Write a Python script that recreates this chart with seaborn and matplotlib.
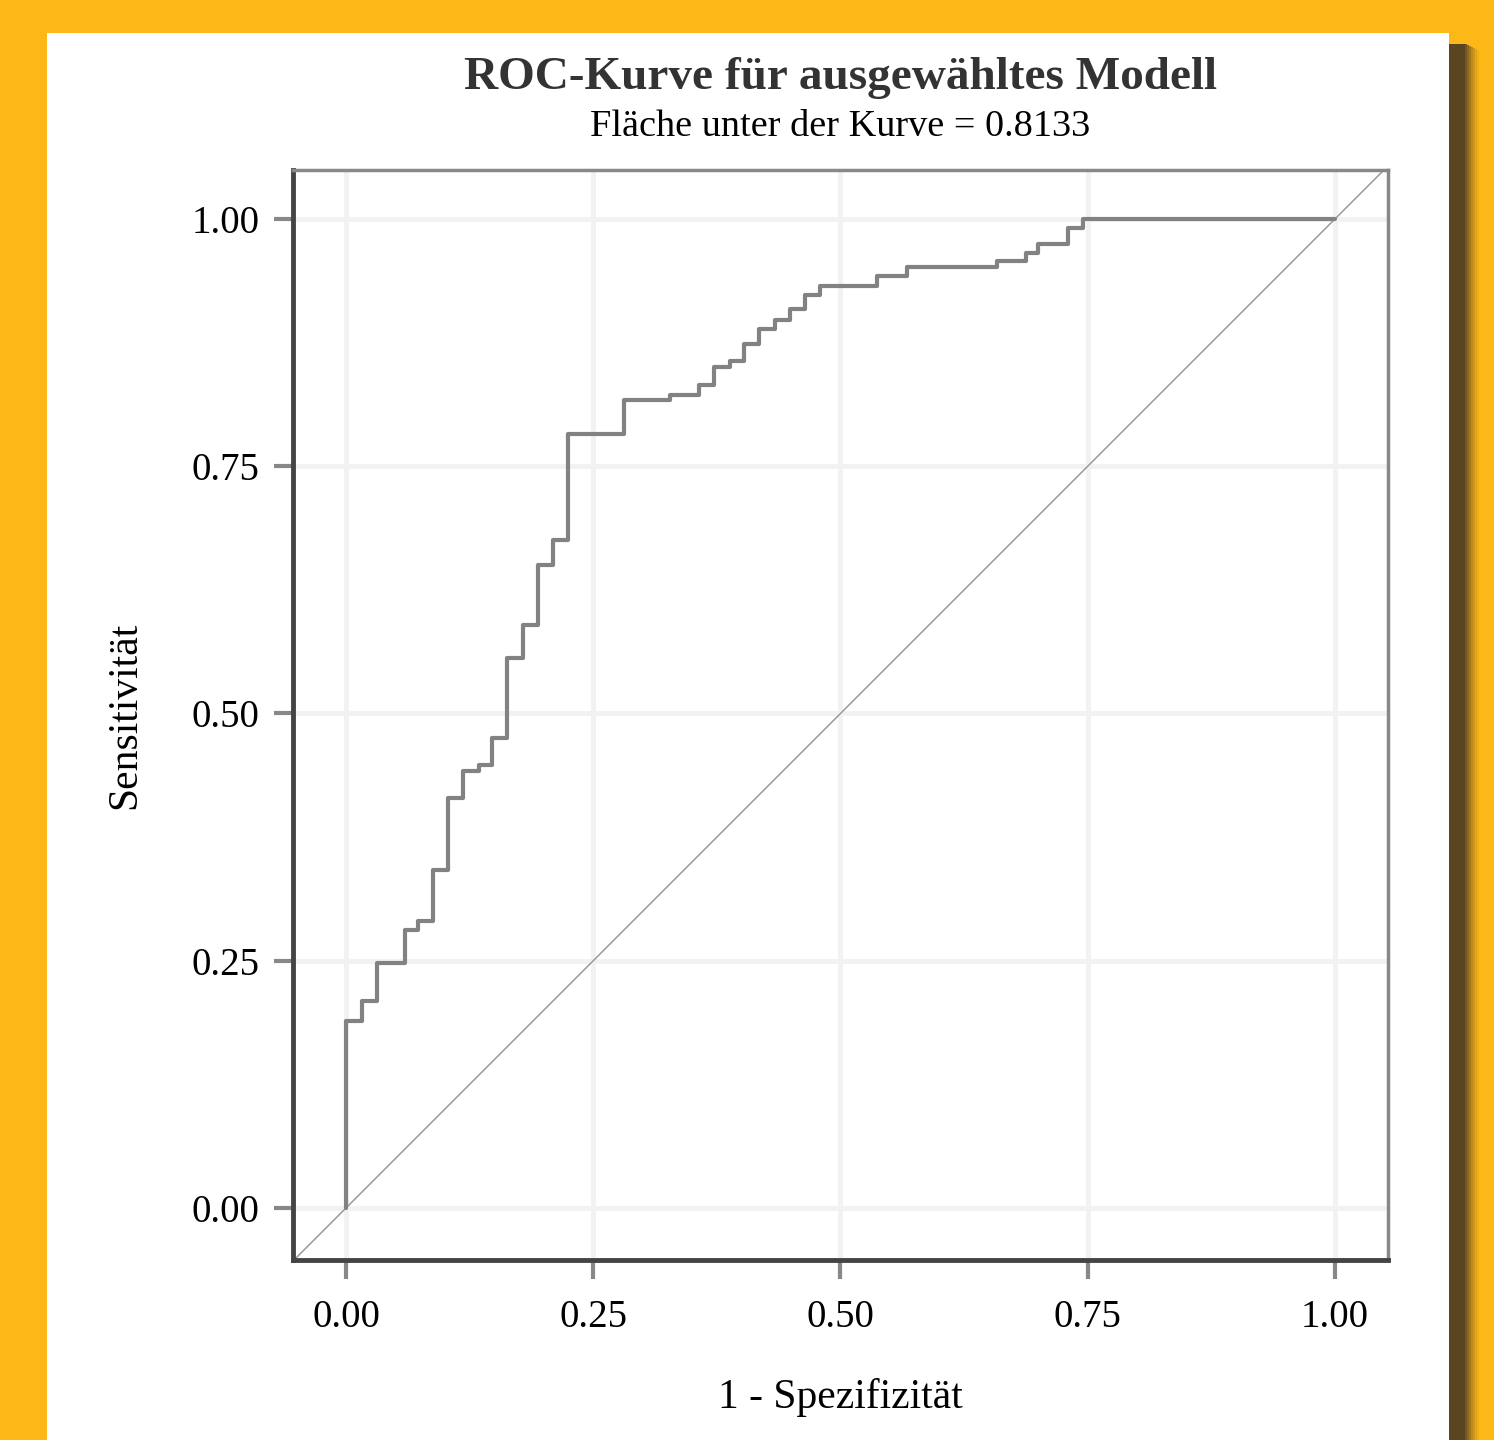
import numpy as np
import pandas as pd
import matplotlib.pyplot as plt
import matplotlib.patches as mpatches
import seaborn as sns

sns.set_theme(style="white")
plt.rcParams["font.family"] = ["Liberation Serif", "DejaVu Serif"]

# ROC curve corner points (step after each point)
fpr = [0.0, 0.0, 0.016, 0.031, 0.060, 0.0725, 0.0877, 0.1028, 0.118, 0.134,
       0.148, 0.163, 0.179, 0.194, 0.209, 0.224, 0.281, 0.328, 0.357, 0.372,
       0.388, 0.402, 0.418, 0.434, 0.449, 0.464, 0.479, 0.537, 0.567, 0.658,
       0.688, 0.700, 0.730, 0.7455, 1.0]
tpr = [0.0, 0.189, 0.209, 0.248, 0.281, 0.290, 0.342, 0.415, 0.442, 0.448,
       0.475, 0.556, 0.589, 0.650, 0.675, 0.783, 0.817, 0.822, 0.832, 0.850,
       0.856, 0.874, 0.889, 0.898, 0.909, 0.923, 0.932, 0.942, 0.951, 0.957,
       0.966, 0.975, 0.991, 1.0, 1.0]
ticks = [0.0, 0.25, 0.5, 0.75, 1.0]
tick_labels = ["0.00", "0.25", "0.50", "0.75", "1.00"]
auc = 0.8133

roc = pd.DataFrame({"fpr": fpr, "tpr": tpr})

W, H = 1494, 1440
fig = plt.figure(figsize=(W / 100, H / 100), dpi=100, facecolor="#fcb817")

# shadow + white panel (behind the axes)
fig.patches.append(mpatches.Rectangle((1449 / W, 0), 16 / W, 1 - 44 / H,
                                      transform=fig.transFigure, facecolor="#5b4520",
                                      edgecolor="none", zorder=-3))
for i, a in enumerate([0.85, 0.7, 0.55, 0.4, 0.28, 0.16, 0.07]):
    fig.patches.append(mpatches.Rectangle(((1465 + i * 2) / W, 0), 2 / W, 1 - (44 + i) / H,
                                          transform=fig.transFigure, facecolor="#5b4520",
                                          alpha=a, edgecolor="none", zorder=-3))
fig.patches.append(mpatches.Rectangle((47 / W, 0), (1449 - 47) / W, 1 - 33 / H,
                                      transform=fig.transFigure,
                                      facecolor="white", edgecolor="none", zorder=-2))

ax = fig.add_axes([293 / W, 1 - 1260 / H, (1388 - 293) / W, (1260 - 170) / H])
ax.set_zorder(1)
ax.set_facecolor("white")

for t in ticks:
    ax.axvline(t, color="#f2f2f2", lw=3.5, zorder=0)
    ax.axhline(t, color="#f2f2f2", lw=3.5, zorder=0)

ax.axline((0, 0), slope=1, color="#9a9a9a", lw=1.1, zorder=1)
sns.lineplot(data=roc, x="fpr", y="tpr", ax=ax, estimator=None, sort=False,
             drawstyle="steps-post", color="#828282", linewidth=3.0, zorder=2)

ax.set_xlim(-0.0536, 1.0536)
ax.set_ylim(-0.0526, 1.0495)
ax.set_xticks(ticks)
ax.set_xticklabels(tick_labels)
ax.set_yticks(ticks)
ax.set_yticklabels(tick_labels)
ax.tick_params(axis="both", direction="out", length=14, width=3, color="#888888",
               labelsize=28, labelcolor="black")
ax.tick_params(axis="x", pad=14, bottom=True)
ax.tick_params(axis="y", pad=10, left=True)

for side in ["left", "bottom"]:
    ax.spines[side].set_color("#444444")
    ax.spines[side].set_linewidth(3.5)
for side in ["top", "right"]:
    ax.spines[side].set_color("#888888")
    ax.spines[side].set_linewidth(2.5)

ax.set_xlabel("1 - Spezifizität", fontsize=30, color="black", labelpad=30)
ax.set_ylabel("Sensitivität", fontsize=30, color="black", labelpad=34)

cx = (293 + 1388) / 2 / W
fig.text(cx, 1 - 78 / H, "ROC-Kurve für ausgewähltes Modell", ha="center", va="center",
         fontsize=34, fontweight="bold", color="#333333")
fig.text(cx, 1 - 127 / H, f"Fläche unter der Kurve = {auc:.4f}", ha="center", va="center",
         fontsize=27.5, color="black")

fig.savefig("out.png", dpi=100, facecolor=fig.get_facecolor())
